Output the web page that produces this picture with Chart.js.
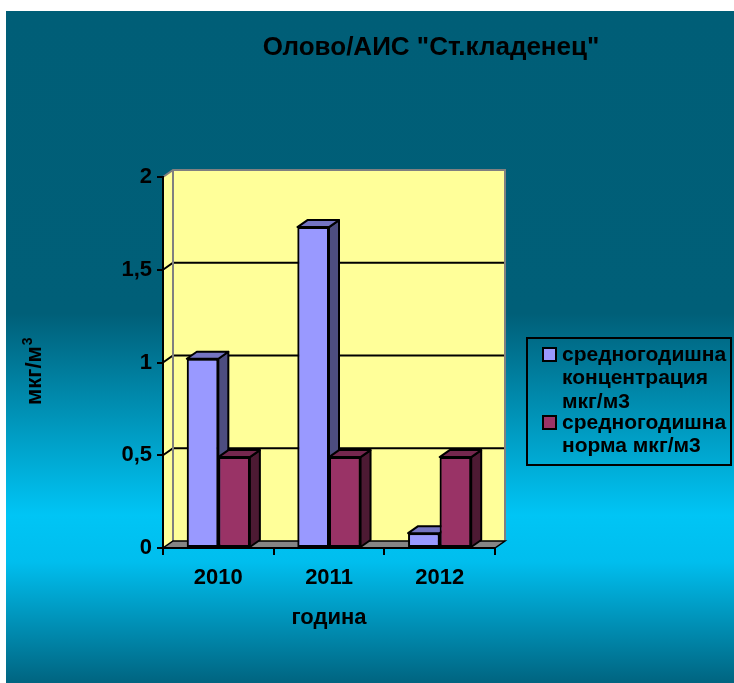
<!DOCTYPE html>
<html>
<head>
<meta charset="utf-8">
<script src="https://cdn.jsdelivr.net/npm/chart.js@4.4.1/dist/chart.umd.min.js"></script>
<style>
  html, body { margin: 0; padding: 0; background: #ffffff; }
  canvas { display: block; }
</style>
</head>
<body>
<canvas id="chart" width="734" height="683"></canvas>
<script>
// ---- data ----
const years = ['2010', '2011', '2012'];
const concentration = [1.02, 1.73, 0.08];
const norm = [0.49, 0.49, 0.49];
const yTickLabels = ['0', '0,5', '1', '1,5', '2'];
const seriesNames = ['средногодишна концентрация мкг/м3', 'средногодишна норма мкг/м3'];
const chartTitle = 'Олово/АИС "Ст.кладенец"';
const xTitle = 'година';
const yTitle = 'мкг/м';
const yTitleSup = '3';

// ---- styling ----
const FONT = '"Liberation Sans", Arial, sans-serif';
const seriesColors = ['#9999FF', '#993366'];
const DX = 10, DY = -7;           // depth offset of the 3D walls and bars

function shade(hex, f) {
  const n = parseInt(hex.slice(1), 16);
  const r = Math.round(((n >> 16) & 255) * f);
  const g = Math.round(((n >> 8) & 255) * f);
  const b = Math.round((n & 255) * f);
  return `rgb(${r},${g},${b})`;
}

function poly(ctx, pts, fill, stroke, lw) {
  ctx.beginPath();
  ctx.moveTo(pts[0][0], pts[0][1]);
  for (let i = 1; i < pts.length; i++) ctx.lineTo(pts[i][0], pts[i][1]);
  ctx.closePath();
  if (fill) { ctx.fillStyle = fill; ctx.fill(); }
  if (stroke) { ctx.strokeStyle = stroke; ctx.lineWidth = lw || 1; ctx.stroke(); }
}

const depthPlugin = {
  id: 'depth',
  beforeDraw(chart) {
    const { ctx, chartArea: a, scales: { y } } = chart;
    const W = chart.width, H = chart.height;
    ctx.save();
    // page background with the vertical teal/cyan gradient
    ctx.fillStyle = '#ffffff';
    ctx.fillRect(0, 0, W, H);
    const g = ctx.createLinearGradient(0, 11, 0, H);
    g.addColorStop(0.00, '#005E77');
    g.addColorStop(0.45, '#005F78');
    g.addColorStop(0.75, '#00C5F5');
    g.addColorStop(0.82, '#00BEEE');
    g.addColorStop(1.00, '#006480');
    ctx.fillStyle = g;
    ctx.fillRect(6, 11, W - 6, H - 11);

    const yellow = '#FFFF99';
    // left side wall
    poly(ctx, [[a.left, a.top], [a.left + DX, a.top + DY], [a.left + DX, a.bottom + DY], [a.left, a.bottom]], yellow);
    // back wall
    ctx.fillStyle = yellow;
    ctx.fillRect(a.left + DX, a.top + DY, a.right - a.left, a.bottom - a.top);

    // grid lines running along the side wall and the back wall
    ctx.strokeStyle = '#000000';
    ctx.lineWidth = 2;
    y.ticks.forEach(t => {
      if (t.value <= y.min || t.value >= y.max) return;
      const py = y.getPixelForValue(t.value);
      ctx.beginPath();
      ctx.moveTo(a.left, py);
      ctx.lineTo(a.left + DX, py + DY);
      ctx.lineTo(a.right + DX, py + DY);
      ctx.stroke();
    });

    // wall outline
    ctx.strokeStyle = '#808080';
    ctx.lineWidth = 2;
    ctx.beginPath();
    ctx.moveTo(a.left, a.top);
    ctx.lineTo(a.left + DX, a.top + DY);
    ctx.lineTo(a.right + DX, a.top + DY);
    ctx.lineTo(a.right + DX, a.bottom + DY);
    ctx.moveTo(a.left + DX, a.top + DY);
    ctx.lineTo(a.left + DX, a.bottom + DY);
    ctx.stroke();

    // floor
    poly(ctx, [[a.left, a.bottom], [a.right, a.bottom], [a.right + DX, a.bottom + DY], [a.left + DX, a.bottom + DY]],
      '#858585', '#000000', 1.5);
    ctx.restore();
  },
  afterDatasetsDraw(chart) {
    const { ctx } = chart;
    const metas = chart.data.datasets.map((d, i) => chart.getDatasetMeta(i));
    ctx.save();
    ctx.lineJoin = 'round';
    for (let c = 0; c < years.length; c++) {
      metas.forEach((meta, d) => {
        const bar = meta.data[c];
        if (!bar) return;
        const { x, y, base, width } = bar.getProps(['x', 'y', 'base', 'width'], true);
        const l = x - width / 2, r = x + width / 2;
        const col = seriesColors[d];
        bar.draw(ctx);
        // right side face
        poly(ctx, [[r, y], [r + DX, y + DY], [r + DX, base + DY], [r, base]], shade(col, 0.5), '#000000', 2);
        // top face
        poly(ctx, [[l, y], [l + DX, y + DY], [r + DX, y + DY], [r, y]], shade(col, 0.76), '#000000', 2);
      });
    }
    ctx.restore();
  },
  afterDraw(chart) {
    const { ctx } = chart;
    ctx.save();
    ctx.fillStyle = '#000000';

    // chart title
    ctx.font = `bold 26px ${FONT}`;
    ctx.textAlign = 'center';
    ctx.textBaseline = 'middle';
    ctx.fillText(chartTitle, 431, 48);

    // vertical axis title with superscript
    ctx.save();
    ctx.translate(41, 405);
    ctx.rotate(-Math.PI / 2);
    ctx.textAlign = 'left';
    ctx.textBaseline = 'alphabetic';
    ctx.font = `bold 22px ${FONT}`;
    ctx.fillText(yTitle, 0, 0);
    const w = ctx.measureText(yTitle).width;
    ctx.font = `bold 14px ${FONT}`;
    ctx.fillText(yTitleSup, w + 1, -9);
    ctx.restore();

    // legend box
    const box = { l: 527, t: 338, r: 731, b: 465 };
    ctx.strokeStyle = '#000000';
    ctx.lineWidth = 2;
    ctx.strokeRect(box.l, box.t, box.r - box.l, box.b - box.t);

    ctx.font = `bold 21px ${FONT}`;
    ctx.textAlign = 'left';
    ctx.textBaseline = 'middle';
    const textX = 562, maxW = box.r - textX - 1;
    const lineH = 23.5;
    let ly = 355;
    chart.data.datasets.forEach((ds, i) => {
      const words = ds.label.split(' ');
      const lines = [];
      let cur = '';
      words.forEach(wd => {
        const test = cur ? cur + ' ' + wd : wd;
        if (cur && ctx.measureText(test).width > maxW) { lines.push(cur); cur = wd; }
        else cur = test;
      });
      if (cur) lines.push(cur);
      // swatch
      ctx.fillStyle = ds.backgroundColor;
      ctx.fillRect(543, ly - 7, 13, 13);
      ctx.strokeRect(543, ly - 7, 13, 13);
      ctx.fillStyle = '#000000';
      lines.forEach((ln, k) => ctx.fillText(ln, textX, ly + k * lineH));
      ly += lines.length * lineH - 2.5;
    });
    ctx.restore();
  }
};

const tickFont = { family: FONT, size: 22, weight: 'bold' };

new Chart(document.getElementById('chart'), {
  type: 'bar',
  data: {
    labels: years,
    datasets: [
      { label: seriesNames[0], data: concentration, backgroundColor: seriesColors[0],
        borderColor: '#000000', borderWidth: 2, borderSkipped: false },
      { label: seriesNames[1], data: norm, backgroundColor: seriesColors[1],
        borderColor: '#000000', borderWidth: 2, borderSkipped: false }
    ]
  },
  options: {
    responsive: false,
    animation: false,
    devicePixelRatio: 1,
    datasets: { bar: { categoryPercentage: 0.57, barPercentage: 1.0 } },
    layout: { padding: { top: 177, right: 239, bottom: 0, left: 0 } },
    plugins: { legend: { display: false }, title: { display: false }, tooltip: { enabled: false } },
    scales: {
      x: {
        grid: { offset: true, drawOnChartArea: false, drawTicks: true, tickLength: 7, color: '#000000', lineWidth: 2 },
        border: { display: true, color: '#000000', width: 2 },
        ticks: { font: tickFont, color: '#000000', padding: 10 },
        title: { display: true, text: xTitle, font: tickFont, color: '#000000', padding: { top: 0, bottom: 52 } },
        afterFit(s) { s.height = 135; }
      },
      y: {
        min: 0, max: 2,
        ticks: { stepSize: 0.5, font: tickFont, color: '#000000', padding: 5,
                 callback: (v, i) => yTickLabels[i] },
        grid: { drawOnChartArea: false, drawTicks: true, tickLength: 6, color: '#000000', lineWidth: 2 },
        border: { display: true, color: '#000000', width: 2 },
        afterFit(s) { s.width = 163; }
      }
    }
  },
  plugins: [depthPlugin]
});
</script>
</body>
</html>
